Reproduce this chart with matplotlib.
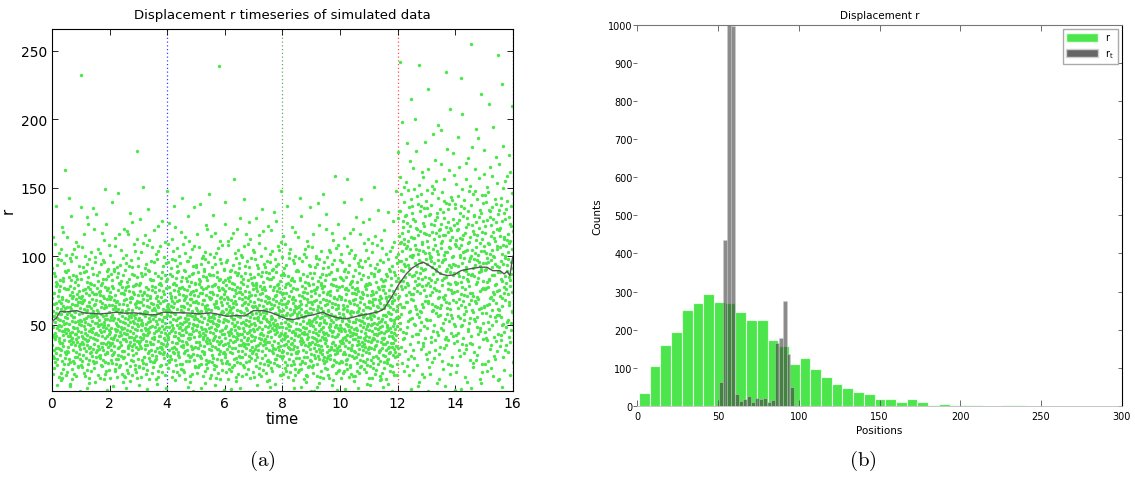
import numpy as np
import matplotlib as mpl
mpl.use('Agg')
import matplotlib.pyplot as plt
from matplotlib.patches import Patch

# ---- data ----
seg_edges = [0, 4, 8, 12, 16]                  # time segments (dotted lines)
band_lo = list(range(0, 270, 10))              # r bands of width 10
# point counts per r band, one list per time segment
seg1_counts = [20, 55, 85, 110, 120, 115, 100, 85, 60, 40, 26, 17, 10, 7, 4, 1, 1, 1, 0, 0, 0, 0, 0, 1, 0, 0, 0]
seg2_counts = [18, 50, 80, 105, 115, 112, 102, 90, 68, 48, 30, 18, 11, 7, 4, 1, 0, 0, 0, 0, 0, 0, 0, 1, 0, 0, 0]
seg3_counts = [22, 58, 88, 112, 120, 112, 98, 82, 62, 44, 28, 16, 9, 7, 4, 3, 0, 0, 0, 0, 0, 0, 0, 0, 0, 0, 0]
seg4_counts = [15, 22, 30, 40, 46, 54, 60, 64, 68, 68, 64, 58, 50, 42, 30, 18, 13, 10, 6, 5, 4, 3, 2, 3, 2, 1, 1]

# running mean r_t
t_mean = [0, 0.03, 0.15, 0.28, 0.5, 0.86, 1.09, 1.4, 1.67, 2.0, 2.25, 2.55, 2.83, 3.1, 3.4, 3.65, 3.87,
          4.2, 4.56, 4.85, 5.14, 5.5, 5.8, 6.08, 6.42, 6.7, 7.0, 7.35, 7.6, 7.8, 8.15, 8.38, 8.6, 8.85,
          9.07, 9.4, 9.65, 9.9, 10.2, 10.45, 10.67, 11.0, 11.35, 11.53, 11.82, 12.05, 12.3, 12.5, 12.73,
          12.9, 13.1, 13.3, 13.5, 13.73, 13.96, 14.2, 14.5, 14.85, 15.1, 15.3, 15.55, 15.7, 15.8, 15.9, 16.0]
r_mean = [50, 53, 55, 59.7, 59.5, 60.4, 58.8, 58.4, 58, 58.6, 59.3, 58.5, 58.8, 58.2, 57.3, 57.5, 59.3,
          58.9, 58.8, 58.5, 58, 58.8, 57.6, 56.3, 56.8, 56.5, 60.4, 60.4, 59.0, 57.3, 54.4, 53.9, 55, 56.5,
          57.3, 59.3, 56.8, 55.3, 54.4, 55.5, 56.8, 58, 59.7, 61.7, 71.4, 79.9, 87.2, 91.4, 94.5,
          95.7, 93.3, 90.4, 87.2, 86, 86.5, 89.6, 90.9, 92.1, 92.1, 89.6, 89.6, 87.2, 89, 86, 100]

# histograms
r_bin_start, r_bin_w = 1.1, 6.63
r_counts = [35, 105, 159, 193, 251, 271, 293, 273, 271, 246, 226, 225, 174, 158, 109, 126, 98, 77, 58, 48,
            36, 30, 17, 19, 10, 17, 10, 3.5, 4, 2, 2, 2, 1, 0, 2, 2, 0, 0, 0, 1]
rt_bin_start, rt_bin_w = 48.3, 2.45
rt_counts = [2, 62, 435, 1070, 996, 31, 12, 18, 27, 11, 20, 18, 21, 11, 15, 164, 177, 274, 137, 49, 2]

C_G = '#4ce64c'
C_T = '#404040'
vline_t = [4, 8, 12, 16]
vline_c = ['#4040ff', '#66aa66', '#ff5050', '#008080']


def halton(i, b):
    f, r = 1.0, 0.0
    while i > 0:
        f /= b
        r += f * (i % b)
        i //= b
    return r


# spread each cell's points evenly inside the cell (leaped Halton, no randomness)
ts, rs = [], []
k = 1
for s, counts in enumerate([seg1_counts, seg2_counts, seg3_counts, seg4_counts]):
    t0, t1 = seg_edges[s], seg_edges[s + 1]
    for lo, n in zip(band_lo, counts):
        for _ in range(n):
            ts.append(t0 + (t1 - t0) * halton(k * 37, 2))
            rs.append(lo + 10 * halton(k * 37, 3))
            k += 1

fig = plt.figure(figsize=(11.35, 4.85), dpi=100)

# ---- (a) timeseries ----
ax = fig.add_axes([0.0458, 0.192, 0.406, 0.746])
ax.scatter(ts, rs, s=6, color=C_G, linewidths=0, zorder=2)
for t, c in zip(vline_t, vline_c):
    ax.axvline(t, color=c, lw=0.9, ls=(0, (1, 2)), zorder=1)
ax.plot(t_mean, r_mean, color='#555555', lw=1.0, zorder=3)
ax.set_xlim(0, 16); ax.set_ylim(1.8, 266)
ax.set_xticks(range(0, 17, 2)); ax.set_yticks([50, 100, 150, 200, 250])
ax.tick_params(direction='in', top=True, right=True, labelsize=10, length=4, width=0.6)
for sp in ax.spines.values():
    sp.set_linewidth(0.8)
ax.set_xlabel('time', fontsize=10.5, labelpad=1)
ax.set_ylabel('r', fontsize=10.5)
ax.set_title('Displacement r timeseries of simulated data', fontsize=9.5, pad=8)

# ---- (b) histogram ----
bx = fig.add_axes([0.5615, 0.161, 0.4268, 0.786])
r_left = [r_bin_start + i * r_bin_w for i in range(len(r_counts))]
rt_left = [rt_bin_start + i * rt_bin_w for i in range(len(rt_counts))]
bx.bar(r_left, r_counts, width=r_bin_w, align='edge', color=C_G, edgecolor='#e6ffe6', lw=0.8)
bx.bar(rt_left, rt_counts, width=rt_bin_w, align='edge', color=C_T, alpha=0.6, edgecolor='#d0d0d0', lw=0.5)
bx.set_xlim(0, 300); bx.set_ylim(0, 1000)
bx.set_xticks(range(0, 301, 50)); bx.set_yticks(range(0, 1001, 100))
bx.spines['left'].set_visible(False)
bx.spines['top'].set_color('#777777')
bx.spines['bottom'].set_color('#bbbbbb')
bx.spines['bottom'].set_linewidth(0.6)
bx.tick_params(axis='y', left=True, right=True, direction='in', labelsize=7, length=3, width=0.6,
               color='#555555')
bx.tick_params(axis='x', top=True, direction='in', labelsize=7, length=4, width=0.6, color='#555555')
for tk in bx.yaxis.get_major_ticks():
    tk.tick1line.set_marker(mpl.lines.TICKLEFT)
bx.set_xlabel('Positions', fontsize=7.5, labelpad=3)
bx.set_ylabel('Counts', fontsize=7.5)
bx.set_title('Displacement r', fontsize=7.5, pad=5)
handles = [Patch(facecolor=C_G, edgecolor='#e6ffe6'), Patch(facecolor='#666666', edgecolor='#d0d0d0')]
lg = bx.legend(handles, ['r', r'r$_\mathrm{t}$'], loc='upper right', fontsize=7, handlelength=3.2,
               handleheight=1.0, borderaxespad=0.4, fancybox=False, framealpha=1, edgecolor='#aaaaaa')
lg.get_frame().set_linewidth(1.0)

fig.text(0.231, 0.04, r'$\mathrm{(a)}$', fontsize=15, ha='center', math_fontfamily='cm')
fig.text(0.760, 0.04, r'$\mathrm{(b)}$', fontsize=15, ha='center', math_fontfamily='cm')

fig.savefig('out.png', dpi=100)
